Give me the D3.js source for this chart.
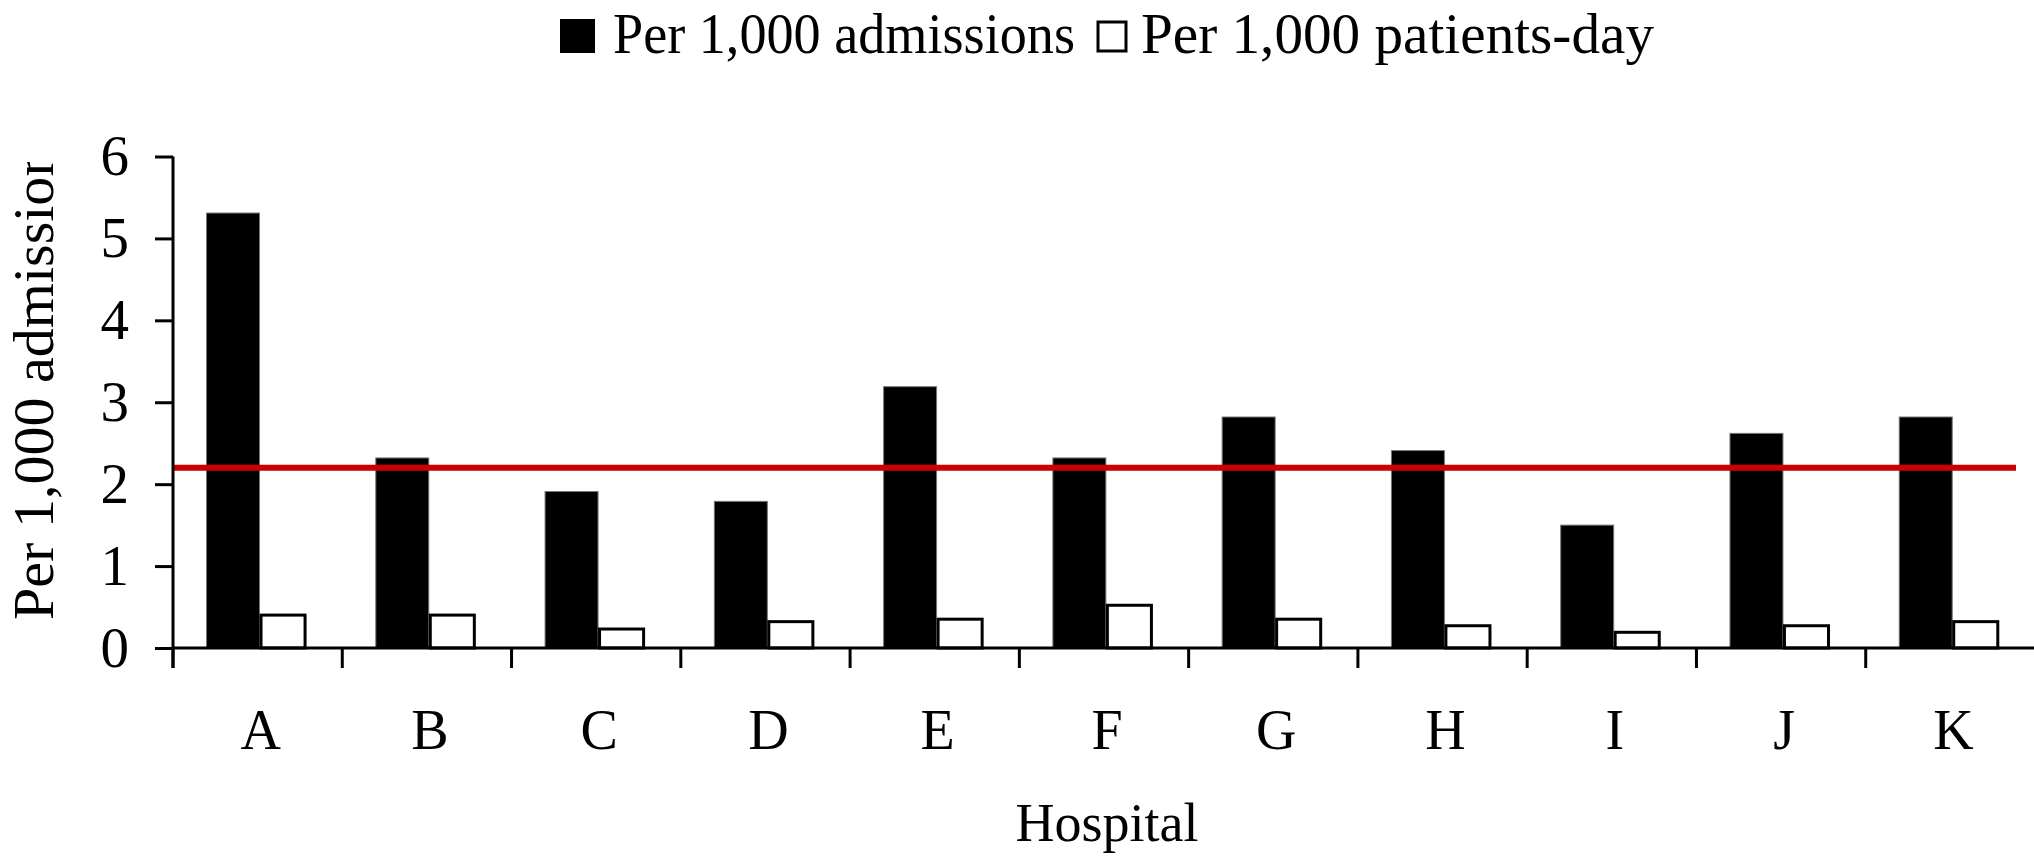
<!DOCTYPE html>
<html>
<head>
<meta charset="utf-8">
<script src="https://cdn.jsdelivr.net/npm/d3@7"></script>
<style>
  body { margin: 0; background: #fff; }
  text { font-family: "Liberation Serif", "Times New Roman", serif; fill: #000; }
</style>
</head>
<body>
<div id="chart"></div>
<script>
// Data
const hospitals = ["A", "B", "C", "D", "E", "F", "G", "H", "I", "J", "K"];
const perAdmissions = [5.31, 2.32, 1.91, 1.79, 3.19, 2.32, 2.82, 2.41, 1.50, 2.62, 2.82];
const perPatientDays = [0.42, 0.42, 0.25, 0.34, 0.37, 0.54, 0.37, 0.29, 0.21, 0.29, 0.34];
const yTicks = [0, 1, 2, 3, 4, 5, 6];
const referenceLine = 2.2;
const seriesNames = ["Per 1,000 admissions", "Per 1,000 patients-day"];

function main() {
    const width = 2034, height = 856;
    const left = 173, right = 2035, top = 156.5, bottom = 648;

    const svg = d3.select("#chart").append("svg")
        .attr("width", width)
        .attr("height", height);

    // Scales
    const x = d3.scaleBand().domain(hospitals).range([left, right]).padding(0);
    const y = d3.scaleLinear().domain([0, 6]).range([bottom, top]);
    const bw = x.bandwidth();

    // Bars: black for admissions, white for patient-days
    const groups = svg.selectAll(".grp")
        .data(hospitals)
        .enter()
        .append("g")
        .attr("class", "grp");

    groups.append("rect")
        .attr("x", d => x(d) + bw * 0.198)
        .attr("y", (d, i) => y(perAdmissions[i]))
        .attr("width", bw * 0.313)
        .attr("height", (d, i) => y(0) - y(perAdmissions[i]))
        .attr("fill", "#000")
        .attr("stroke", "#777")
        .attr("stroke-width", 1);

    groups.append("rect")
        .attr("x", d => x(d) + bw * 0.511 + 1.5)
        .attr("y", (d, i) => y(perPatientDays[i]) + 1.5)
        .attr("width", bw * 0.278 - 3)
        .attr("height", (d, i) => y(0) - y(perPatientDays[i]) - 1.5)
        .attr("fill", "#fff")
        .attr("stroke", "#000")
        .attr("stroke-width", 3);

    // Red reference line
    svg.append("line")
        .attr("x1", left)
        .attr("x2", 2016)
        .attr("y1", y(referenceLine))
        .attr("y2", y(referenceLine))
        .attr("stroke", "#cc0000")
        .attr("stroke-width", 6);

    // Y axis
    const yAxis = svg.append("g")
        .attr("transform", `translate(${left},0)`)
        .call(d3.axisLeft(y).tickValues(yTicks).tickSize(18).tickPadding(26).tickFormat(d3.format("d")));
    yAxis.select(".domain").remove();
    yAxis.selectAll(".tick line").attr("stroke", "#000").attr("stroke-width", 3);
    yAxis.selectAll(".tick text")
        .style("font-family", "'Liberation Serif', serif")
        .style("font-size", "57px")
        .attr("fill", "#000");
    svg.append("line")
        .attr("x1", left).attr("x2", left)
        .attr("y1", top).attr("y2", bottom + 20)
        .attr("stroke", "#000").attr("stroke-width", 3);

    // X axis: baseline plus ticks between groups
    svg.append("line")
        .attr("x1", left).attr("x2", width)
        .attr("y1", bottom).attr("y2", bottom)
        .attr("stroke", "#000").attr("stroke-width", 3);
    svg.selectAll(".xtick")
        .data(hospitals)
        .enter()
        .append("line")
        .attr("class", "xtick")
        .attr("x1", d => x(d)).attr("x2", d => x(d))
        .attr("y1", bottom).attr("y2", bottom + 20)
        .attr("stroke", "#000").attr("stroke-width", 3);

    svg.selectAll(".xlabel")
        .data(hospitals)
        .enter()
        .append("text")
        .attr("class", "xlabel")
        .attr("x", d => x(d) + bw / 2 + 3)
        .attr("y", 749)
        .attr("text-anchor", "middle")
        .style("font-size", "56px")
        .text(d => d);

    // Axis titles
    svg.append("text")
        .attr("x", 1107)
        .attr("y", 841)
        .attr("text-anchor", "middle")
        .style("font-size", "54px")
        .text("Hospital");

    svg.append("clipPath").attr("id", "yclip")
        .append("rect").attr("x", 0).attr("y", 162).attr("width", 120).attr("height", 600);
    svg.append("g").attr("clip-path", "url(#yclip)")
        .append("text")
        .attr("transform", "translate(53,620) rotate(-90)")
        .attr("textLength", 495)
        .attr("lengthAdjust", "spacingAndGlyphs")
        .style("font-size", "57px")
        .text("Per 1,000 admissions");

    // Legend
    const legend = svg.append("g");
    legend.append("rect")
        .attr("x", 560).attr("y", 19).attr("width", 35).attr("height", 34)
        .attr("fill", "#000");
    legend.append("text")
        .attr("x", 613).attr("y", 53)
        .attr("textLength", 462)
        .attr("lengthAdjust", "spacingAndGlyphs")
        .style("font-size", "57px")
        .text(seriesNames[0]);
    legend.append("rect")
        .attr("x", 1098).attr("y", 22).attr("width", 28).attr("height", 29)
        .attr("fill", "#fff").attr("stroke", "#000").attr("stroke-width", 3);
    legend.append("text")
        .attr("x", 1141).attr("y", 53)
        .attr("textLength", 513)
        .attr("lengthAdjust", "spacingAndGlyphs")
        .style("font-size", "57px")
        .text(seriesNames[1]);
}

main();
</script>
</body>
</html>
